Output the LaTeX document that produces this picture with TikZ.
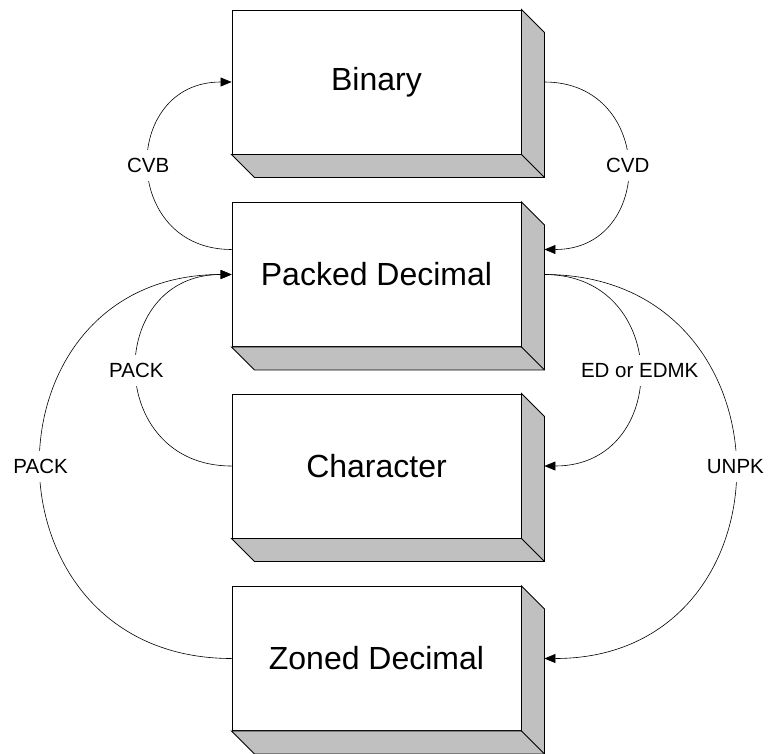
\documentclass[tikz,border=0pt]{standalone}
\usepackage{fontspec}
\setmainfont{Liberation Sans}
\usetikzlibrary{arrows.meta}
\definecolor{shade}{HTML}{C0C0C0}
\tikzset{
 blk/.style={draw,line width=0.9pt,fill=white,minimum width=289pt,minimum height=144pt,inner sep=0pt,font=\fontsize{32}{38}\selectfont},
 conv/.style={line width=0.6pt,-{Triangle[length=11pt,width=9pt]}},
 lbl/.style={fill=white,inner sep=3pt,minimum height=31pt,font=\fontsize{20.5}{24}\selectfont}
}
\begin{document}
\begin{tikzpicture}[x=1pt,y=1pt]
\useasboundingbox(0,0)rectangle(768,-753);
\node[blk](bin)at(376.5,-82){Binary};
\node[blk](pd)at(376.5,-274.5){Packed Decimal};
\node[blk](ch)at(376.5,-466){Character};
\node[blk](zd)at(376.5,-658.5){Zoned Decimal};
% depth of the boxes
\foreach \b in {bin,pd,ch,zd}{
 \filldraw[fill=shade,line width=0.9pt](\b.north east)--++(23,-23)--([shift={(23pt,-23pt)}]\b.south east)--([shift={(23pt,-23pt)}]\b.south west)--(\b.south west)--(\b.south east)--cycle;
 \draw[line width=0.9pt](\b.south east)--++(23,-23);
 \coordinate(\b R)at([xshift=23pt]\b.east);
}
\coordinate(pdRin)at([shift={(23pt,25pt)}]pd.east);
\coordinate(pdLout)at([yshift=25pt]pd.west);
% conversions
\draw[conv](pdLout)to[out=180,in=180,looseness=1.7]node[lbl]{CVB}(bin.west);
\draw[conv](binR)to[out=0,in=0,looseness=1.7]node[lbl]{CVD}(pdRin);
\draw[conv](ch.west)to[out=180,in=180,looseness=1.7]node[lbl]{PACK}(pd.west);
\draw[conv](zd.west)to[out=180,in=180,looseness=1.7]node[lbl]{PACK}(pd.west);
\draw[conv](pdR)to[out=0,in=0,looseness=1.7]node[lbl]{ED or EDMK}(chR);
\draw[conv](pdR)to[out=0,in=0,looseness=1.7]node[lbl]{UNPK}(zdR);
\end{tikzpicture}
\end{document}
